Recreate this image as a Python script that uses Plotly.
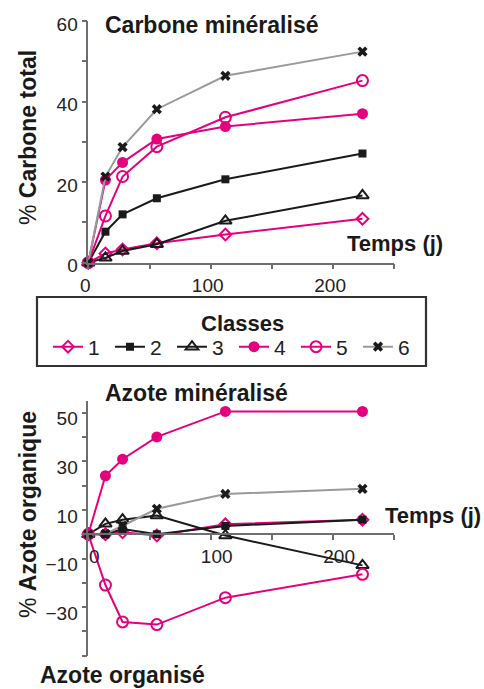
import plotly.graph_objects as go

W, H = 484, 689

# ---- data ----
days = [0, 14, 28, 56, 112, 224]
classes = ["1", "2", "3", "4", "5", "6"]

carbone_1 = [0, 2.3, 3.3, 4.8, 7.0, 10.9]
carbone_2 = [0, 7.7, 12.0, 16.0, 20.7, 27.1]
carbone_3 = [0, 1.2, 2.9, 4.6, 10.4, 16.7]
carbone_4 = [0, 20.5, 24.9, 30.7, 33.8, 37.0]
carbone_5 = [0, 11.6, 21.4, 28.8, 36.1, 45.2]
carbone_6 = [0, 21.4, 28.7, 38.1, 46.4, 52.4]

azote_1 = [0, 0, 0.8, -0.5, 4.1, 6.0]
azote_2 = [0, 0, 2.2, 0, 3.4, 6.0]
azote_3 = [0, 4.3, 6.0, 7.7, -0.5, -12.8]
azote_4 = [0, 24.1, 30.9, 40.1, 50.6, 50.6]
azote_5 = [0, -20.9, -36.1, -37.2, -26.1, -16.5]
azote_6 = [0, 0.2, 3.5, 10.5, 16.6, 18.7]

carbone = [carbone_1, carbone_2, carbone_3, carbone_4, carbone_5, carbone_6]
azote = [azote_1, azote_2, azote_3, azote_4, azote_5, azote_6]

PINK = "#e5007d"
BLACK = "#1a1a1a"
GRAY = "#9a9a9a"
FONT = "Liberation Sans, Arial, sans-serif"

styles = [
    dict(line=PINK, marker=dict(symbol="diamond-open", size=9, color=PINK, line=dict(width=2, color=PINK))),
    dict(line=BLACK, marker=dict(symbol="square", size=8, color=BLACK)),
    dict(line=BLACK, marker=dict(symbol="triangle-up-open", size=11, color=BLACK, line=dict(width=2, color=BLACK))),
    dict(line=PINK, marker=dict(symbol="circle", size=11, color=PINK)),
    dict(line=PINK, marker=dict(symbol="circle-open", size=11, color=PINK, line=dict(width=2, color=PINK))),
    dict(line=GRAY, marker=dict(symbol="x", size=9, color=BLACK)),
]

fig = go.Figure()
for i, name in enumerate(classes):
    st = styles[i]
    fig.add_trace(go.Scatter(x=days, y=carbone[i], mode="lines+markers", name=name,
                             line=dict(color=st["line"], width=2), marker=st["marker"],
                             xaxis="x", yaxis="y", cliponaxis=False, legendrank=i))
for i, name in enumerate(classes):
    st = styles[i]
    fig.add_trace(go.Scatter(x=days, y=azote[i], mode="lines+markers", name=name,
                             line=dict(color=st["line"], width=2), marker=st["marker"],
                             xaxis="x2", yaxis="y2", cliponaxis=False, showlegend=False))

def px_x(p):
    return p / W

def px_y(p):
    return 1 - p / H

axis_common = dict(showline=True, linecolor="#6e6e6e", linewidth=1.5, showgrid=False, zeroline=False,
                   ticks="outside", ticklen=5, tickcolor="#6e6e6e", tickwidth=1.5, automargin=False,
                   tickfont=dict(family=FONT, size=19, color="#222"))

xdom = [px_x(88.3), px_x(394.3)]
fig.update_layout(
    width=W, height=H, margin=dict(l=0, r=0, t=0, b=0, pad=0, autoexpand=False),
    plot_bgcolor="white", paper_bgcolor="white",
    font=dict(family=FONT, color="#222"),
    xaxis=dict(domain=xdom, range=[0, 250], anchor="y", tickvals=[0, 100, 200], ticklabelshift=-3,
               minor=dict(dtick=50, tick0=0, ticks="outside", ticklen=5, tickcolor="#6e6e6e"),
               **axis_common),
    yaxis=dict(domain=[px_y(262.7), px_y(21)], range=[0, 60], anchor="x", tickvals=[0, 20, 40, 60],
               ticklabelshift=3,
               minor=dict(dtick=10, tick0=0, ticks="outside", ticklen=5, tickcolor="#6e6e6e"),
               **axis_common),
    xaxis2=dict(domain=xdom, range=[0, 250], anchor="free", position=px_y(534.3),
                tickvals=[0, 100, 200], ticklabelshift=6,
                minor=dict(dtick=50, tick0=0, ticks="outside", ticklen=5, tickcolor="#6e6e6e"),
                **axis_common),
    yaxis2=dict(domain=[px_y(655.7), px_y(400.7)], range=[-50, 55], anchor="x2",
                tickvals=[-30, -10, 10, 30, 50], ticklabelshift=6,
                minor=dict(dtick=10, tick0=-50, ticks="outside", ticklen=5, tickcolor="#6e6e6e"),
                **axis_common),
    legend=dict(orientation="h", x=px_x(48), xanchor="left", y=px_y(347), yanchor="middle",
                borderwidth=0, bgcolor="rgba(0,0,0,0)",
                font=dict(family=FONT, size=21, color="#222"),
                itemwidth=30, entrywidth=17, entrywidthmode="pixels", tracegroupgap=0),
    shapes=[dict(type="rect", xref="paper", yref="paper",
                 x0=px_x(37), x1=px_x(426), y0=px_y(366), y1=px_y(297),
                 line=dict(color="#333", width=2.2), fillcolor="rgba(0,0,0,0)", layer="above")],
)

def label(text, x, y, size, xanchor="center", angle=0):
    fig.add_annotation(text=text, x=px_x(x), y=px_y(y), xref="paper", yref="paper",
                       xanchor=xanchor, yanchor="middle", showarrow=False, textangle=angle,
                       font=dict(family=FONT, size=size, color="#1a1a1a"))

label("<b>Carbone minéralisé</b>", 211, 25, 23)
label("% <b>Carbone total</b>", 28, 138, 23, angle=-90)
label("<b>Temps (j)</b>", 345, 243, 22, xanchor="left")
label("<b>Classes</b>", 242, 323, 22)
label("<b>Azote minéralisé</b>", 196, 393, 23)
label("<b>Temps (j)</b>", 383, 515, 22, xanchor="left")
label("<b>Azote organisé</b>", 38, 675, 23, xanchor="left")
label("% <b>Azote organique</b>", 28, 515, 23, angle=-90)

fig.write_html("out.html", post_script="document.body.style.margin='0';document.body.style.overflow='hidden';")
